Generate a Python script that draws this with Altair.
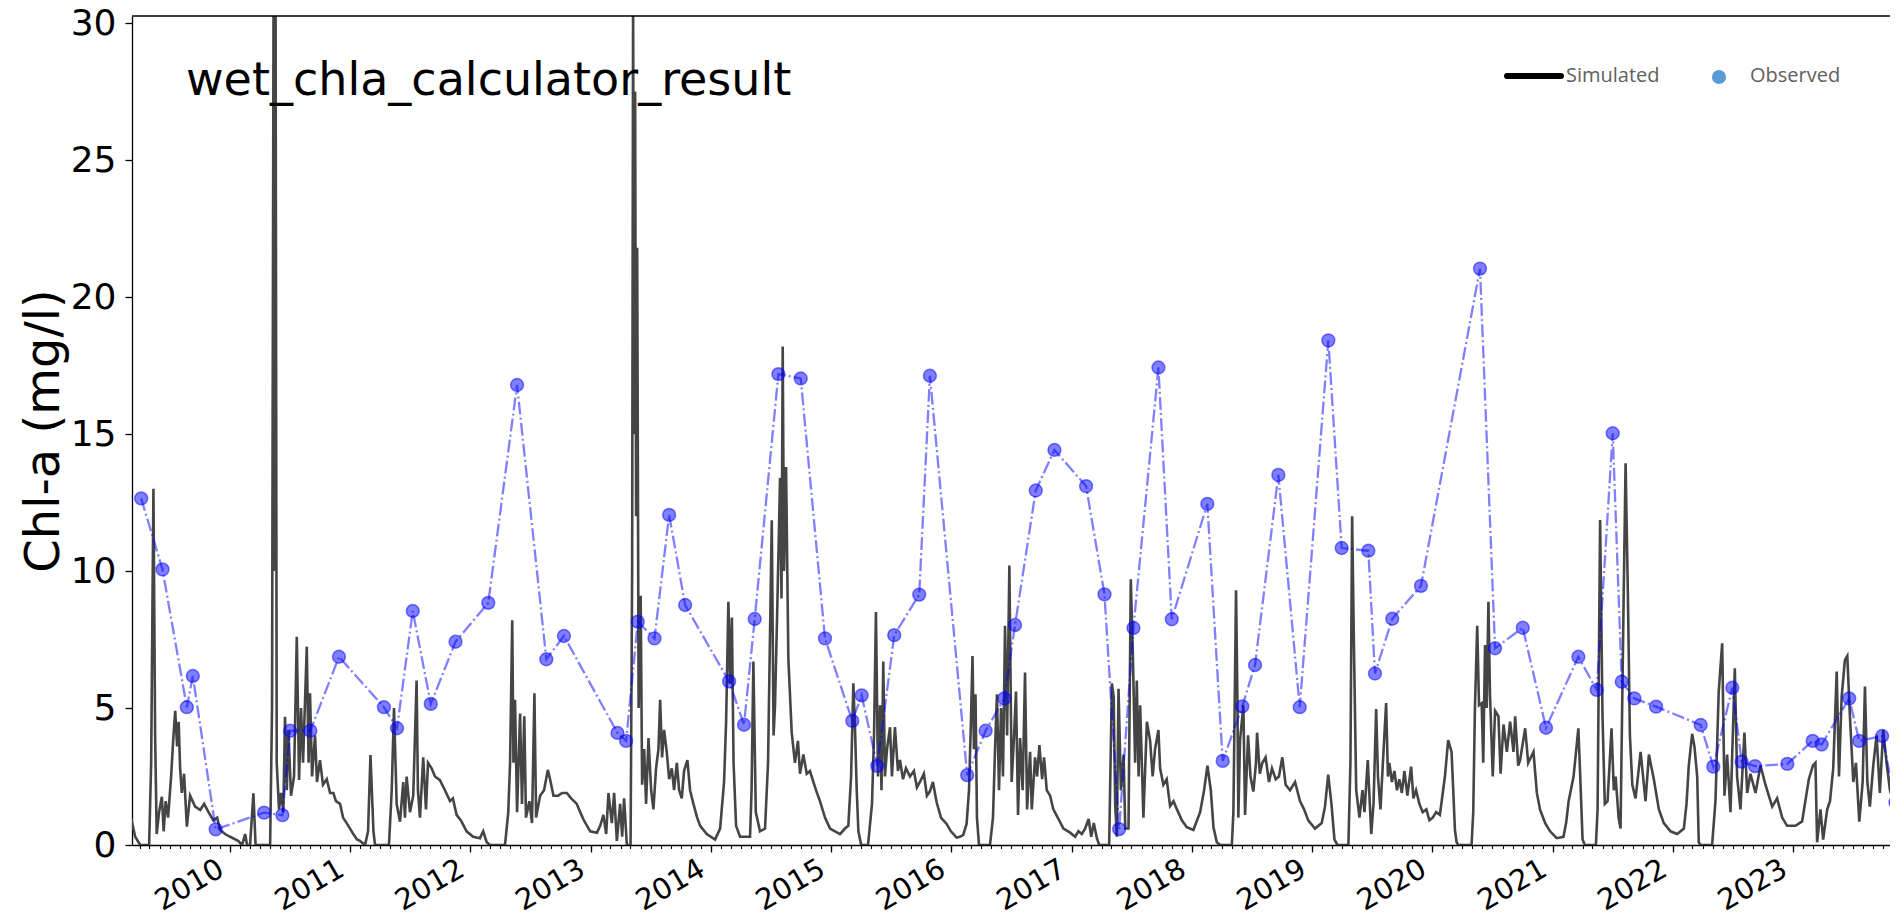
import altair as alt
import pandas as pd

# ---------------- data (decimal year, value) ----------------
sim_2009 = [(2009.177,0.97),(2009.210,0.3),(2009.252,0.0),(2009.326,0.0),(2009.343,3.0),(2009.362,13.0),(2009.376,4.0),(2009.389,0.4),(2009.409,1.2),(2009.432,1.76),(2009.447,0.5),(2009.464,1.6),(2009.484,1.0),(2009.509,2.5),(2009.526,3.8),(2009.543,4.9),(2009.559,3.6),(2009.572,4.5),(2009.584,2.8),(2009.598,1.9),(2009.617,2.6),(2009.640,0.67),(2009.667,1.8),(2009.709,1.4),(2009.751,1.28),(2009.784,1.5),(2009.820,1.2),(2009.861,0.9),(2009.892,1.0),(2009.917,0.55),(2009.958,0.4)]
sim_2010 = [(2010.000,0.3),(2010.067,0.15),(2010.100,0.0),(2010.125,0.4),(2010.141,0.0),(2010.166,0.0),(2010.194,1.89),(2010.212,0.0),(2010.333,0.0),(2010.349,5.0),(2010.362,32),(2010.370,10),(2010.378,32),(2010.388,3.0),(2010.407,1.3),(2010.424,1.9),(2010.443,1.2),(2010.457,4.68),(2010.472,2.0),(2010.485,4.2),(2010.507,1.8),(2010.532,2.5),(2010.555,7.6),(2010.574,2.37),(2010.590,5.0),(2010.607,3.0),(2010.638,7.24),(2010.653,3.0),(2010.665,5.54),(2010.682,2.5),(2010.707,4.0),(2010.723,2.3),(2010.748,3.1),(2010.773,2.2),(2010.804,2.4),(2010.832,1.9),(2010.859,1.9),(2010.881,1.6),(2010.915,1.5),(2010.940,1.0),(2010.970,0.8),(2010.998,0.6)]
sim_2011 = [(2011.025,0.4),(2011.056,0.2),(2011.081,0.15),(2011.123,0.0),(2011.148,0.5),(2011.168,3.28),(2011.193,0.5),(2011.206,0.0),(2011.322,0.0),(2011.345,2.0),(2011.364,5.0),(2011.386,1.5),(2011.414,0.85),(2011.441,2.3),(2011.455,1.0),(2011.469,2.5),(2011.497,1.2),(2011.524,1.8),(2011.552,6.0),(2011.563,2.0),(2011.580,1.0),(2011.607,3.2),(2011.630,1.3),(2011.647,3.0),(2011.677,2.8),(2011.705,2.5),(2011.746,2.37),(2011.788,2.0),(2011.830,1.6),(2011.854,1.7),(2011.885,1.1),(2011.921,0.9),(2011.968,0.5)]
sim_2012 = [(2012.023,0.3),(2012.079,0.25),(2012.106,0.5),(2012.135,0.1),(2012.162,0.0),(2012.287,0.0),(2012.314,1.2),(2012.329,3.0),(2012.347,8.2),(2012.357,3.0),(2012.370,5.3),(2012.387,1.2),(2012.412,4.8),(2012.428,1.5),(2012.447,4.7),(2012.461,1.0),(2012.489,1.6),(2012.511,0.8),(2012.531,5.54),(2012.545,1.0),(2012.578,1.8),(2012.611,2.0),(2012.642,2.74),(2012.661,2.4),(2012.689,1.8),(2012.728,1.8),(2012.761,1.9),(2012.800,1.9),(2012.836,1.7),(2012.883,1.5),(2012.911,1.2),(2012.938,0.93),(2012.994,0.5)]
sim_2013 = [(2013.050,0.45),(2013.077,0.7),(2013.104,1.1),(2013.127,0.4),(2013.146,1.9),(2013.174,0.8),(2013.193,1.9),(2013.216,0.15),(2013.243,1.5),(2013.260,0.3),(2013.276,1.7),(2013.299,0.0),(2013.330,0.0),(2013.343,10),(2013.351,31),(2013.360,15),(2013.368,27.5),(2013.376,12),(2013.385,21.8),(2013.397,5),(2013.414,9.1),(2013.426,2.2),(2013.443,3.5),(2013.459,1.5),(2013.479,3.9),(2013.501,2.0),(2013.520,1.3),(2013.542,2.8),(2013.562,3.5),(2013.576,5.3),(2013.592,3.2),(2013.609,4.2),(2013.631,3.4),(2013.651,2.4),(2013.673,2.8),(2013.692,2.0),(2013.715,3.0),(2013.734,2.0),(2013.756,1.7),(2013.775,2.7),(2013.803,3.1),(2013.825,2.0),(2013.853,1.5),(2013.884,1.0),(2013.909,0.7),(2013.964,0.4)]
sim_2014 = [(2014.033,0.2),(2014.075,0.6),(2014.108,2.3),(2014.125,4.5),(2014.144,8.88),(2014.158,5.9),(2014.173,8.3),(2014.187,3.0),(2014.208,0.7),(2014.241,0.3),(2014.324,0.3),(2014.337,2.0),(2014.352,6.7),(2014.372,1.2),(2014.407,0.5),(2014.449,0.6),(2014.474,3.0),(2014.505,11.85),(2014.520,4.0),(2014.532,5.1),(2014.551,8.7),(2014.574,13.4),(2014.586,9.0),(2014.596,18.2),(2014.607,10.0),(2014.624,13.8),(2014.643,6.8),(2014.671,4.1),(2014.698,3.0),(2014.723,3.8),(2014.740,2.6),(2014.768,3.3),(2014.796,2.6),(2014.823,2.7),(2014.851,2.3),(2014.881,1.9),(2014.906,1.6),(2014.948,1.0),(2014.990,0.6)]
sim_2015 = [(2015.031,0.5),(2015.073,0.4),(2015.114,0.6),(2015.142,0.7),(2015.165,2.5),(2015.184,5.9),(2015.198,4.2),(2015.212,2.0),(2015.226,0.5),(2015.249,0.0),(2015.306,0.0),(2015.339,1.5),(2015.356,4.0),(2015.372,8.5),(2015.389,2.5),(2015.406,5.1),(2015.418,2.0),(2015.433,6.7),(2015.447,2.5),(2015.464,3.5),(2015.489,4.3),(2015.505,2.5),(2015.530,4.3),(2015.555,2.7),(2015.572,3.1),(2015.597,2.4),(2015.622,2.8),(2015.655,2.5),(2015.688,2.7),(2015.713,2.1),(2015.738,2.3),(2015.771,2.6),(2015.796,1.8),(2015.821,1.96),(2015.846,2.3),(2015.877,1.56),(2015.913,1.0),(2015.960,0.77),(2015.996,0.5)]
sim_2016 = [(2016.043,0.27),(2016.071,0.3),(2016.098,0.37),(2016.126,0.77),(2016.146,2.0),(2016.162,4.5),(2016.175,6.9),(2016.187,3.5),(2016.200,5.5),(2016.212,1.0),(2016.229,0.0),(2016.320,0.0),(2016.345,1.0),(2016.362,3.5),(2016.378,5.5),(2016.395,2.0),(2016.412,5.0),(2016.428,2.5),(2016.445,8.0),(2016.462,4.0),(2016.481,10.2),(2016.500,2.3),(2016.520,4.0),(2016.536,5.6),(2016.553,1.1),(2016.570,3.9),(2016.591,2.0),(2016.611,6.3),(2016.628,1.3),(2016.653,3.4),(2016.667,1.3),(2016.694,3.2),(2016.711,2.5),(2016.730,3.65),(2016.753,2.4),(2016.769,3.2),(2016.791,2.0),(2016.819,1.8),(2016.846,1.3),(2016.888,0.95),(2016.930,0.6),(2016.985,0.45)]
sim_2017 = [(2017.027,0.3),(2017.054,0.5),(2017.082,0.4),(2017.110,0.6),(2017.139,0.95),(2017.161,0.3),(2017.182,0.8),(2017.208,0.25),(2017.227,0.0),(2017.310,0.0),(2017.333,5.9),(2017.348,5.4),(2017.360,1.5),(2017.374,0.3),(2017.388,5.7),(2017.408,2.0),(2017.430,3.3),(2017.444,0.6),(2017.471,0.6),(2017.490,9.7),(2017.507,7.0),(2017.526,3.0),(2017.540,6.0),(2017.555,2.5),(2017.568,5.1),(2017.595,1.0),(2017.624,4.5),(2017.651,3.8),(2017.672,2.5),(2017.692,3.5),(2017.720,4.2),(2017.734,2.8),(2017.761,2.2),(2017.789,2.4),(2017.817,1.42),(2017.846,1.6),(2017.874,1.3),(2017.915,0.9),(2017.956,0.65)]
sim_2018 = [(2018.011,0.55),(2018.067,1.2),(2018.100,2.0),(2018.128,2.9),(2018.156,2.0),(2018.178,0.65),(2018.206,0.1),(2018.233,0.0),(2018.331,0.0),(2018.344,1.2),(2018.366,9.3),(2018.377,5.5),(2018.385,1.0),(2018.399,3.8),(2018.427,5.1),(2018.441,1.1),(2018.466,4.0),(2018.486,2.5),(2018.510,1.95),(2018.532,3.0),(2018.541,4.1),(2018.564,2.6),(2018.585,3.0),(2018.612,3.2),(2018.640,2.3),(2018.665,2.8),(2018.696,2.4),(2018.723,2.5),(2018.751,3.2),(2018.779,2.2),(2018.815,2.0),(2018.857,2.3),(2018.898,1.6),(2018.932,1.3),(2018.967,0.9)]
sim_2019 = [(2019.023,0.6),(2019.079,0.8),(2019.106,1.4),(2019.133,2.57),(2019.160,1.5),(2019.185,0.2),(2019.210,0.0),(2019.301,0.0),(2019.318,3.0),(2019.332,12.0),(2019.347,7.3),(2019.366,2.0),(2019.393,1.0),(2019.418,2.0),(2019.435,1.2),(2019.462,3.1),(2019.491,0.4),(2019.510,1.5),(2019.532,4.96),(2019.547,2.5),(2019.568,1.3),(2019.588,3.0),(2019.615,5.18),(2019.630,2.5),(2019.642,3.0),(2019.663,2.3),(2019.684,2.7),(2019.705,2.0),(2019.725,2.4),(2019.746,1.9),(2019.767,2.7),(2019.792,1.8),(2019.823,2.86),(2019.842,1.7),(2019.864,2.0),(2019.892,1.5),(2019.919,1.2),(2019.950,1.3),(2019.975,0.9)]
sim_2020 = [(2020.003,1.0),(2020.031,1.2),(2020.062,1.1),(2020.104,2.5),(2020.131,3.83),(2020.159,3.4),(2020.173,2.0),(2020.187,0.55),(2020.201,0.1),(2020.215,0.0),(2020.325,0.0),(2020.339,1.2),(2020.353,5.0),(2020.372,8.0),(2020.387,5.1),(2020.409,5.17),(2020.422,3.0),(2020.437,7.3),(2020.451,5.0),(2020.465,8.88),(2020.478,5.5),(2020.501,2.5),(2020.520,4.9),(2020.548,4.7),(2020.566,2.6),(2020.590,4.4),(2020.618,3.4),(2020.645,4.5),(2020.673,3.4),(2020.687,4.7),(2020.712,2.9),(2020.728,3.1),(2020.770,4.26),(2020.795,3.0),(2020.839,3.4),(2020.867,1.9),(2020.894,1.28),(2020.936,0.8),(2020.977,0.5)]
sim_2021 = [(2021.032,0.25),(2021.088,0.3),(2021.110,0.8),(2021.131,1.6),(2021.172,2.5),(2021.212,4.26),(2021.225,2.8),(2021.247,0.2),(2021.266,0.0),(2021.358,0.0),(2021.372,1.3),(2021.393,11.86),(2021.413,4.7),(2021.432,1.5),(2021.455,1.6),(2021.488,4.26),(2021.507,2.0),(2021.522,2.5),(2021.547,1.0),(2021.563,0.6),(2021.586,8.1),(2021.605,13.93),(2021.624,9.2),(2021.641,4.0),(2021.661,2.2),(2021.688,1.7),(2021.730,3.4),(2021.771,1.6),(2021.799,3.3),(2021.840,2.4),(2021.882,1.3),(2021.923,0.8),(2021.979,0.5)]
sim_2022 = [(2022.035,0.4),(2022.090,0.6),(2022.112,1.5),(2022.131,2.9),(2022.159,4.06),(2022.178,3.6),(2022.201,2.5),(2022.214,0.1),(2022.228,0.0),(2022.325,0.0),(2022.353,1.6),(2022.380,5.6),(2022.409,7.36),(2022.428,1.8),(2022.450,3.3),(2022.478,1.2),(2022.514,6.45),(2022.533,2.5),(2022.561,1.3),(2022.594,4.1),(2022.617,1.9),(2022.644,2.6),(2022.686,1.9),(2022.728,2.9),(2022.769,2.2),(2022.825,1.4),(2022.866,1.7),(2022.908,1.0),(2022.949,0.7)]
sim_2023 = [(2023.019,0.7),(2023.074,0.86),(2023.130,2.4),(2023.164,2.9),(2023.185,3.0),(2023.199,0.1),(2023.227,1.3),(2023.249,0.2),(2023.283,1.3),(2023.306,1.6),(2023.333,2.8),(2023.362,6.33),(2023.381,2.5),(2023.403,5.4),(2023.430,6.75),(2023.450,6.9),(2023.472,4.7),(2023.500,2.3),(2023.522,3.0),(2023.550,0.85),(2023.578,2.3),(2023.597,5.78),(2023.617,2.3),(2023.638,1.4),(2023.666,2.9),(2023.694,4.0),(2023.721,1.9),(2023.749,4.2),(2023.777,3.0),(2023.805,2.0),(2023.833,1.6),(2023.874,1.7)]

obs_years = [2009.260,2009.437,2009.640,2009.690,2009.880,2010.283,2010.435,2010.500,2010.668,2010.906,
             2011.280,2011.389,2011.520,2011.670,2011.876,2012.148,2012.387,2012.630,2012.776,2013.221,
             2013.293,2013.390,2013.529,2013.651,2013.784,2014.150,2014.274,2014.363,2014.560,2014.746,
             2014.948,2015.175,2015.253,2015.383,2015.524,2015.732,2015.821,2016.131,2016.284,2016.439,
             2016.528,2016.700,2016.855,2017.118,2017.271,2017.393,2017.512,2017.720,2017.831,2018.127,
             2018.255,2018.418,2018.524,2018.718,2018.896,2019.134,2019.245,2019.467,2019.522,2019.666,
             2019.905,2020.395,2020.520,2020.750,2020.943,2021.212,2021.365,2021.498,2021.573,2021.678,
             2021.859,2022.230,2022.335,2022.493,2022.571,2022.682,2022.951,2023.162,2023.237,2023.466,
             2023.549,2023.740,2023.851]
obs_values = [12.65,10.06,5.03,6.17,0.57,1.18,1.09,4.17,4.17,6.87,
              5.03,4.26,8.54,5.15,7.42,8.84,16.79,6.78,7.63,4.09,
              3.80,8.15,7.54,12.05,8.76,5.97,4.39,8.25,17.19,17.03,
              7.54,4.53,5.46,2.89,7.66,9.14,17.13,2.55,4.17,5.35,
              8.03,12.94,14.42,13.10,9.15,0.58,7.92,17.43,8.24,12.45,
              3.07,5.06,6.57,13.51,5.03,18.42,10.84,10.74,6.26,8.26,
              9.46,21.04,7.18,7.93,4.28,6.87,5.66,15.03,5.96,5.35,
              5.05,4.38,2.86,5.74,3.04,2.88,2.96,3.80,3.67,5.35,
              3.80,3.98,1.56]

year_ticks = list(range(2010, 2024))
y_ticks = [0, 5, 10, 15, 20, 25, 30]
title_text = ["wet_chla_calculator_result"]
legend_labels = ["Simulated", "Observed"]


def to_date(y):
    yi = int(y)
    start = pd.Timestamp(year=yi, month=1, day=1)
    ndays = pd.Timestamp(year=yi, month=12, day=31).dayofyear
    return start + pd.Timedelta(days=(y - yi) * ndays)


sim_pts = (sim_2009 + sim_2010 + sim_2011 + sim_2012 + sim_2013 + sim_2014 + sim_2015 +
           sim_2016 + sim_2017 + sim_2018 + sim_2019 + sim_2020 + sim_2021 + sim_2022 + sim_2023)
sim_df = pd.DataFrame({"date": [to_date(p[0]) for p in sim_pts], "value": [p[1] for p in sim_pts]})
obs_df = pd.DataFrame({"date": [to_date(y) for y in obs_years], "value": obs_values})
month_ticks = pd.date_range("2009-04-01", "2023-10-01", freq="MS")

# ---------------- chart ----------------
W, H = 1758, 829
FONT = "DejaVu Sans"

x_scale = alt.Scale(domain=[alt.DateTime(year=2009, month=3, date=9),
                            alt.DateTime(year=2023, month=10, date=22)])
y_scale = alt.Scale(domain=[0, 30.26], nice=False, zero=False)

y_enc = alt.Y("value:Q", scale=y_scale,
              axis=alt.Axis(values=y_ticks, labelFontSize=36, labelFont=FONT, labelColor="black",
                            tickSize=7, tickColor="black", tickWidth=1.3, labelPadding=9,
                            domainColor="black", domainWidth=1.3, grid=False,
                            title="Chl-a (mg/l)", titleFont=FONT, titleFontSize=48,
                            titleFontWeight="normal", titleColor="black", titleAngle=270,
                            titleX=-74, titleY=414.5, titleAlign="center",
                            titleBaseline="alphabetic"))

major_axis = alt.Axis(values=[alt.DateTime(year=y, month=1, date=1) for y in year_ticks],
                      orient="bottom",
                      format="%Y", labelAngle=-30, labelAlign="right", labelBaseline="top",
                      labelFontSize=29, labelFont=FONT, labelColor="black", labelPadding=2,
                      labelOffset=-16, labelFlush=False, labelOverlap=False,
                      tickSize=7, tickColor="black", tickWidth=1.3,
                      domainColor="black", domainWidth=1.3, grid=False, title=None)

minor_axis = alt.Axis(values=[alt.DateTime(year=d.year, month=d.month, date=1) for d in month_ticks],
                      orient="bottom",
                      labels=False, tickSize=3.5, tickColor="black", tickWidth=1.1,
                      domain=False, grid=False, title=None)

sim = alt.Chart(sim_df).mark_line(color="#454545", strokeWidth=2.6, clip=True).encode(
    x=alt.X("date:T", scale=x_scale, axis=major_axis), y=y_enc)

minor = alt.Chart(sim_df).mark_line(opacity=0, clip=True).encode(
    x=alt.X("date:T", scale=x_scale, axis=minor_axis), y=y_enc)

obs_line = alt.Chart(obs_df).mark_line(color="blue", opacity=0.5, strokeWidth=2.3,
                                       strokeDash=[12.8, 3.2, 2, 3.2], clip=True).encode(
    x=alt.X("date:T", scale=x_scale, axis=None), y=y_enc)

obs_pts = alt.Chart(obs_df).mark_point(filled=True, color="blue", fillOpacity=0.5, size=165,
                                       stroke="blue", strokeOpacity=0.5, strokeWidth=1.5,
                                       clip=True).encode(
    x=alt.X("date:T", scale=x_scale, axis=None), y=y_enc)

top_rule = alt.Chart(pd.DataFrame({"k": [0]})).mark_rule(color="black", strokeWidth=1.3).encode(
    x=alt.value(0), x2=alt.value(W), y=alt.value(0))

title_mark = alt.Chart(pd.DataFrame({"t": title_text})).mark_text(
    font=FONT, fontSize=46, align="left", baseline="alphabetic", color="black").encode(
    x=alt.value(54), y=alt.value(79), text="t:N")

leg_line = alt.Chart(pd.DataFrame({"k": [0]})).mark_rule(color="black", strokeWidth=6,
                                                         strokeCap="round").encode(
    x=alt.value(1375), x2=alt.value(1429), y=alt.value(60))
leg_sim = alt.Chart(pd.DataFrame({"t": [legend_labels[0]]})).mark_text(
    font="Open Sans", fontSize=20, align="left", baseline="middle", color="#606060").encode(
    x=alt.value(1434), y=alt.value(60), text="t:N")
leg_dot = alt.Chart(pd.DataFrame({"k": [0]})).mark_point(filled=True, color="#5B9BD5", opacity=1,
                                                         size=200).encode(
    x=alt.value(1587), y=alt.value(61))
leg_obs = alt.Chart(pd.DataFrame({"t": [legend_labels[1]]})).mark_text(
    font="Open Sans", fontSize=20, align="left", baseline="middle", color="#606060").encode(
    x=alt.value(1618), y=alt.value(60), text="t:N")

chart = alt.layer(
    minor, sim, obs_line, obs_pts, top_rule, title_mark, leg_line, leg_sim, leg_dot, leg_obs
).resolve_axis(x="independent").properties(
    width=W, height=H,
    padding={"left": 124, "top": 8, "right": 0, "bottom": 71},
    autosize=alt.AutoSizeParams(type="none"),
).configure_view(stroke=None)

chart.save("out.html", embed_options={"renderer": "svg", "actions": False})
